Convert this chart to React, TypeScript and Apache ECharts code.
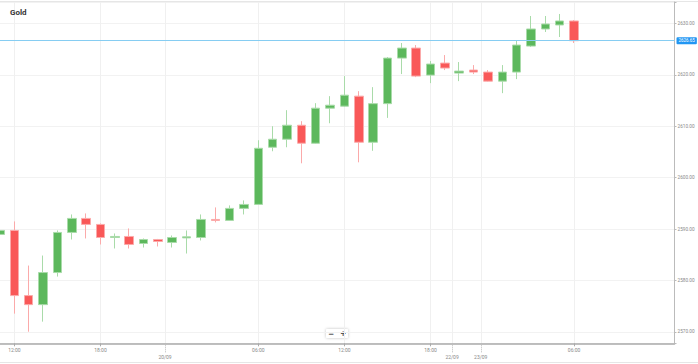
import React, { useEffect, useRef } from 'react';
import * as echarts from 'echarts';

// Hourly candles (date hh:mm)
const candleTimes = [
  '19/09 11:00', '19/09 12:00', '19/09 13:00', '19/09 14:00', '19/09 15:00', '19/09 16:00',
  '19/09 17:00', '19/09 18:00', '19/09 19:00', '19/09 20:00', '19/09 21:00', '19/09 22:00',
  '20/09 00:00', '20/09 01:00', '20/09 02:00', '20/09 03:00', '20/09 04:00', '20/09 05:00',
  '20/09 06:00', '20/09 07:00', '20/09 08:00', '20/09 09:00', '20/09 10:00', '20/09 11:00',
  '20/09 12:00', '20/09 13:00', '20/09 14:00', '20/09 15:00', '20/09 16:00', '20/09 17:00',
  '20/09 18:00', '20/09 19:00',
  '22/09 22:00', '22/09 23:00',
  '23/09 00:00', '23/09 01:00', '23/09 02:00', '23/09 03:00', '23/09 04:00', '23/09 05:00',
  '23/09 06:00',
];

const opens = [
  2588.97, 2589.75, 2577.08, 2575.32, 2581.56, 2589.36, 2592.09, 2590.92, 2588.38, 2588.58,
  2587.21, 2587.99, 2587.41, 2588.30, 2588.38, 2591.89, 2591.70, 2594.04, 2594.81, 2605.93,
  2607.49, 2610.21, 2606.71, 2613.53, 2613.92, 2615.87, 2606.90, 2614.41, 2623.27, 2625.22,
  2619.96, 2622.30, 2620.35, 2620.94, 2620.55, 2618.79, 2620.55, 2625.61, 2628.93, 2629.71,
  2630.49,
];
const closes = [
  2589.75, 2577.08, 2575.32, 2581.56, 2589.36, 2592.09, 2590.92, 2588.38, 2588.58, 2587.02,
  2587.99, 2587.60, 2588.38, 2588.50, 2591.89, 2591.70, 2594.04, 2594.81, 2605.73, 2607.49,
  2610.21, 2606.71, 2613.53, 2614.11, 2616.06, 2606.90, 2614.41, 2623.27, 2625.22, 2619.77,
  2622.11, 2621.33, 2620.74, 2620.55, 2618.79, 2620.55, 2625.81, 2628.93, 2629.90, 2630.49,
  2626.65,
];
const lows = [
  2588.60, 2573.57, 2570.05, 2572.01, 2580.78, 2587.99, 2588.19, 2587.02, 2586.24, 2586.24,
  2586.43, 2586.63, 2586.43, 2585.26, 2587.80, 2591.31, 2591.60, 2592.86, 2594.70, 2605.15,
  2605.93, 2602.81, 2606.60, 2610.60, 2613.80, 2603.00, 2605.24, 2611.64, 2620.16, 2619.57,
  2618.40, 2620.94, 2618.79, 2620.16, 2618.70, 2616.45, 2619.18, 2625.42, 2628.34, 2627.37,
  2626.20,
];
const highs = [
  2590.10, 2591.50, 2582.92, 2584.87, 2589.75, 2592.86, 2593.06, 2591.11, 2589.16, 2590.14,
  2588.19, 2588.10, 2588.77, 2589.75, 2592.86, 2594.23, 2594.62, 2595.59, 2607.29, 2610.02,
  2613.14, 2611.00, 2614.50, 2615.87, 2619.77, 2616.84, 2617.62, 2623.47, 2626.20, 2625.81,
  2622.69, 2623.86, 2622.50, 2621.91, 2620.94, 2621.91, 2626.59, 2631.46, 2631.46, 2631.85,
  2630.68,
];

// hours that get a time tick label on the x axis
const labeledHours = ['06:00', '12:00', '18:00'];

const TITLE = 'Gold';
const SLOT_COUNT = 95; // half-candle slots across the plot
const FONT = 'Roboto, "Liberation Sans", sans-serif';

export default function App() {
  const ref = useRef<HTMLDivElement>(null);

  useEffect(() => {
    document.body.style.margin = '0';
    const chart = echarts.init(ref.current!, null, { renderer: 'svg' });

    const slots = Array.from({ length: SLOT_COUNT }, (_, j) => 's' + j);
    const timeLbl: string[] = new Array(SLOT_COUNT).fill('');
    const dateLbl: string[] = new Array(SLOT_COUNT).fill('');
    const data: number[][] = [];
    candleTimes.forEach((t, k) => {
      const [d, h] = t.split(' ');
      if (labeledHours.includes(h)) timeLbl[2 * k] = h;
      if (k > 0 && candleTimes[k - 1].split(' ')[0] !== d) dateLbl[2 * k - 1] = d;
      data.push([2 * k, opens[k], closes[k], lows[k], highs[k]]);
    });
    const lastClose = closes[closes.length - 1];

    const isTime = (i: number) => timeLbl[i] !== '';
    const isDate = (i: number) => dateLbl[i] !== '';

    chart.setOption({
      animation: false,
      textStyle: { fontFamily: FONT },
      title: {
        text: TITLE,
        left: 10,
        top: 8,
        padding: 0,
        textStyle: { fontSize: 8, fontWeight: 'bold', color: '#333', fontFamily: FONT },
      },
      grid: { left: -1.4, right: 23.5, top: 2, bottom: 20.7, containLabel: false },
      xAxis: [
        {
          type: 'category',
          data: slots,
          boundaryGap: false,
          position: 'bottom',
          axisLine: { show: true, onZero: false, lineStyle: { color: '#aaa', width: 1.5 } },
          axisTick: { show: true, interval: (i: number) => isTime(i), length: 3, lineStyle: { color: '#aaa' } },
          axisLabel: {
            interval: (i: number) => isTime(i),
            formatter: (_v: string, i: number) => timeLbl[i],
            fontSize: 5,
            color: '#888',
            margin: 4,
          },
          splitLine: {
            show: true,
            interval: (i: number) => isTime(i) || isDate(i),
            lineStyle: { color: '#f0f0f0', width: 1 },
          },
        },
        {
          type: 'category',
          data: slots,
          boundaryGap: false,
          position: 'bottom',
          axisLine: { show: false, onZero: false },
          axisTick: {
            show: true,
            interval: (i: number) => isDate(i),
            length: 10,
            lineStyle: { color: '#bbb', type: 'dotted' },
          },
          axisLabel: {
            interval: (i: number) => isDate(i),
            formatter: (_v: string, i: number) => dateLbl[i],
            fontSize: 5,
            color: '#888',
            margin: 11.5,
          },
          splitLine: { show: false },
        },
      ],
      yAxis: {
        type: 'value',
        position: 'right',
        min: 2567.8,
        max: 2634.18,
        splitNumber: 6,
        axisLine: { show: true, lineStyle: { color: '#bbb', width: 1 } },
        axisTick: { show: true, length: 2, lineStyle: { color: '#bbb' } },
        axisLabel: {
          fontSize: 4.7,
          color: '#888',
          margin: 3,
          formatter: (v: number) => (Math.abs(v % 10) < 1e-6 ? v.toFixed(2) : ''),
        },
        splitLine: { show: true, lineStyle: { color: '#f2f2f2' } },
      },
      series: [
        {
          type: 'candlestick',
          xAxisIndex: 0,
          yAxisIndex: 0,
          data,
          encode: { x: 0, y: [1, 2, 3, 4] },
          barWidth: 9,
          clip: true,
          itemStyle: {
            color: '#5cb85c',
            color0: '#f95858',
            borderColor: '#a9dba9',
            borderColor0: '#fbaaaa',
            borderWidth: 1,
          },
          markLine: {
            silent: true,
            symbol: ['none', 'none'],
            animation: false,
            lineStyle: { color: '#86cdf2', width: 1, type: 'solid' },
            label: {
              show: true,
              position: 'end',
              distance: 2,
              formatter: (p: any) => Number(p.value).toFixed(2),
              backgroundColor: '#2196f3',
              color: '#fff',
              fontSize: 4.5,
              padding: [1, 2],
              borderRadius: 1,
            },
            data: [{ yAxis: lastClose }],
          },
        },
      ],
      graphic: [
        { type: 'line', shape: { x1: 0, y1: 1.5, x2: 698, y2: 1.5 }, style: { stroke: '#e6e6e6', lineWidth: 1 } },
        { type: 'line', shape: { x1: 0, y1: 362.5, x2: 698, y2: 362.5 }, style: { stroke: '#e6e6e6', lineWidth: 1 } },
        {
          type: 'rect',
          shape: { x: 326, y: 329, width: 22, height: 9, r: 1 },
          style: { fill: '#fff', shadowBlur: 3, shadowColor: 'rgba(0,0,0,0.25)' },
        },
        {
          type: 'text',
          x: 331,
          y: 333.5,
          style: { text: '−', fontSize: 9, fill: '#555', align: 'center', verticalAlign: 'middle', fontWeight: 'bold' },
        },
        {
          type: 'text',
          x: 343,
          y: 333.5,
          style: { text: '+', fontSize: 9, fill: '#555', align: 'center', verticalAlign: 'middle', fontWeight: 'bold' },
        },
      ],
    });

    return () => chart.dispose();
  }, []);

  return <div ref={ref} style={{ width: 698, height: 364 }} />;
}
